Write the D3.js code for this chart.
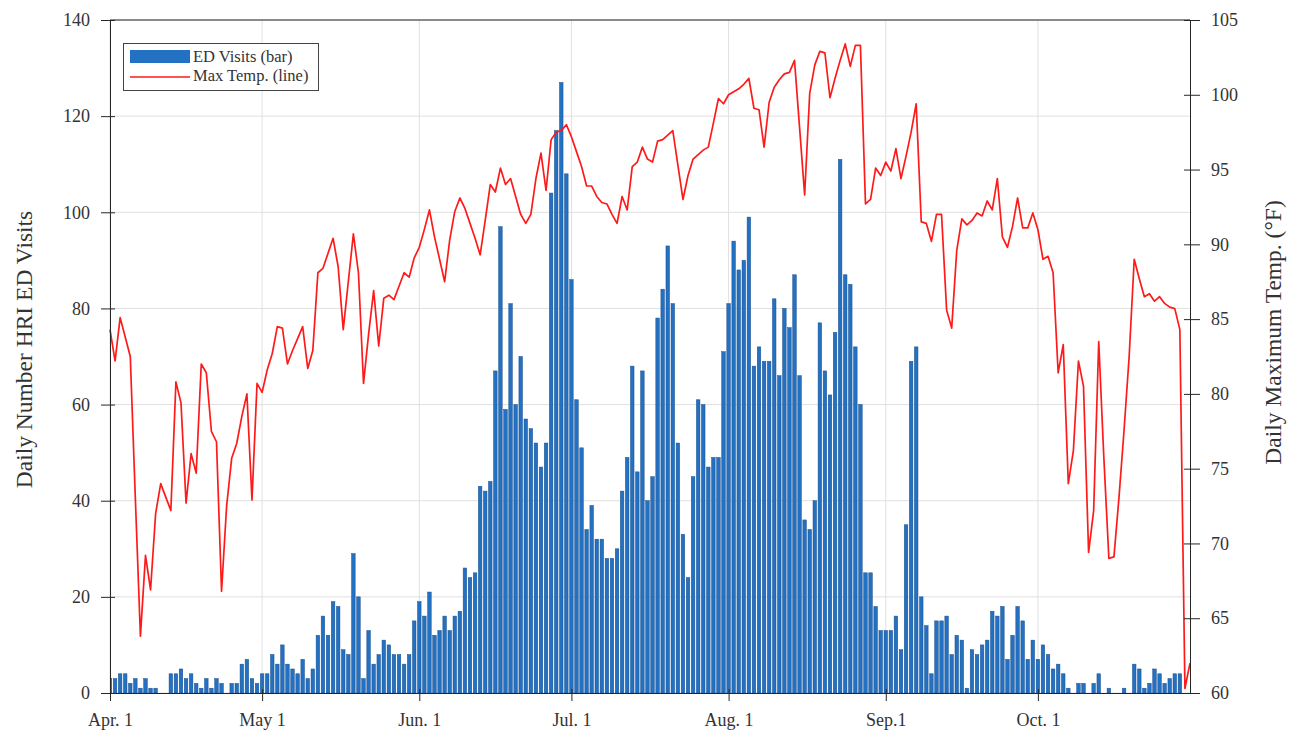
<!DOCTYPE html>
<html><head><meta charset="utf-8">
<script src="https://cdn.jsdelivr.net/npm/d3@7"></script>
<style>body{margin:0;background:#fff;} svg{display:block;font-family:"Liberation Serif","Times New Roman",serif;}</style>
</head><body><svg id="c" width="1294" height="733"></svg>
<script>
// ---- data ----
const startDate = "2018-04-01";
const endDate = "2018-10-31";
const edVisits = [
 3,3,4,4,2,3,1,3,1,1,
 0,0,4,4,5,3,4,2,1,3,
 1,3,2,0,2,2,6,7,3,2,
 4,4,8,6,10,6,5,4,7,3,
 5,12,16,12,19,18,9,8,29,20,
 3,13,6,8,11,10,8,8,6,8,
 15,19,16,21,12,13,16,13,16,17,
 26,24,25,43,42,44,67,97,59,81,
 60,70,57,55,52,47,52,104,117,127,
 108,86,61,51,34,39,32,32,28,28,
 30,42,49,68,46,67,40,45,78,84,
 93,81,52,33,24,45,61,60,47,49,
 49,71,81,94,88,90,99,68,72,69,
 69,82,66,80,76,87,66,36,34,40,
 77,67,62,75,111,87,85,72,60,25,
 25,18,13,13,13,16,9,35,69,72,
 20,14,4,15,15,16,8,12,11,1,
 9,8,10,11,17,16,18,7,12,18,
 15,7,11,7,10,8,5,6,4,1,
 0,2,2,0,2,4,0,1,0,0,
 1,0,6,5,1,2,5,4,2,3,
 4,4,0,0
];
const maxTemp = [
 84.3,82.2,85.1,83.8,82.5,73.0,63.8,69.2,66.9,72.0,
 74.0,73.1,72.2,80.8,79.4,72.7,76.0,74.7,82.0,81.4,
 77.5,76.8,66.8,72.5,75.7,76.7,78.5,80.0,72.9,80.7,
 80.1,81.6,82.7,84.5,84.4,82.0,82.9,83.7,84.5,81.7,
 82.9,88.1,88.4,89.4,90.4,88.5,84.3,87.5,90.7,88.1,
 80.7,84.0,86.9,83.2,86.4,86.6,86.3,87.2,88.1,87.8,
 89.1,89.8,91.0,92.3,90.5,89.0,87.5,90.3,92.2,93.1,
 92.4,91.4,90.4,89.3,91.6,94.0,93.5,95.1,94.0,94.4,
 93.2,92.0,91.4,92.0,94.4,96.1,93.6,97.0,97.5,97.6,
 98.0,97.2,96.2,95.2,93.9,93.9,93.2,92.8,92.7,92.0,
 91.4,93.2,92.3,95.2,95.5,96.5,95.7,95.5,96.9,97.0,
 97.3,97.6,95.3,93.0,94.6,95.7,96.0,96.3,96.5,98.1,
 99.75,99.4,100.0,100.2,100.4,100.7,101.1,99.1,99.0,96.5,
 99.5,100.5,101.0,101.4,101.5,102.3,97.8,93.3,100.1,102.0,
 102.9,102.8,99.8,101.1,102.3,103.4,101.9,103.3,103.3,92.7,
 93.0,95.1,94.6,95.5,94.9,96.4,94.4,95.9,97.5,99.4,
 91.5,91.4,90.2,92.0,92.0,85.6,84.4,89.6,91.7,91.3,
 91.6,92.1,91.9,92.9,92.3,94.4,90.5,89.8,91.2,93.1,
 91.1,91.1,92.1,91.0,89.0,89.2,88.1,81.4,83.3,74.0,
 76.2,82.2,80.5,69.4,72.2,83.5,75.8,69.0,69.1,73.1,
 77.6,82.5,89.0,87.7,86.5,86.7,86.2,86.5,86.05,85.8,
 85.7,84.3,60.3,62.0
];
const visitTicks = [0,20,40,60,80,100,120,140];
const tempTicks = [60,65,70,75,80,85,90,95,100,105];
const monthTicks = ["2018-04-01","2018-05-01","2018-06-01","2018-07-01","2018-08-01","2018-09-01","2018-10-01"];
const monthLabels = ["Apr. 1","May 1","Jun. 1","Jul. 1","Aug. 1","Sep.1","Oct. 1"];
const seriesNames = ["ED Visits (bar)","Max Temp. (line)"];
const axisTitles = ["Daily Number HRI ED Visits","Daily Maximum Temp. (\u00B0F)"];

// ---- layout ----
const m = {left:110, right:1190, top:20, bottom:693};
const parse = d3.utcParse("%Y-%m-%d");
const t0 = parse(startDate), t1 = parse(endDate);
const dates = edVisits.map((_, i) => d3.utcDay.offset(t0, i));
const x = d3.scaleUtc().domain([t0, t1]).range([m.left, m.right]);
const yL = d3.scaleLinear().domain([0, 140]).range([m.bottom, m.top]);
const yR = d3.scaleLinear().domain([60, 105]).range([m.bottom, m.top]);
const dayW = x(d3.utcDay.offset(t0, 1)) - x(t0);
const barW = dayW * 0.7;

const svg = d3.select("#c");
const axisColor = "#262626", gridColor = "#e0e0e0";
const barFill = "#2371c2", barStroke = "#1b4f8c", lineColor = "#ff1a1a";

svg.append("defs").append("clipPath").attr("id","plot")
  .append("rect").attr("x", m.left).attr("y", m.top).attr("width", m.right - m.left).attr("height", m.bottom - m.top);

// grid
const grid = svg.append("g");
grid.selectAll("line.h").data(visitTicks).join("line")
  .attr("x1", m.left).attr("x2", m.right).attr("y1", d => yL(d)).attr("y2", d => yL(d))
  .attr("stroke", gridColor).attr("stroke-width", 1);
grid.selectAll("line.v").data(monthTicks.map(parse)).join("line")
  .attr("x1", d => x(d)).attr("x2", d => x(d)).attr("y1", m.top).attr("y2", m.bottom)
  .attr("stroke", gridColor).attr("stroke-width", 1);

// bars
svg.append("g").attr("clip-path","url(#plot)")
  .selectAll("rect").data(edVisits).join("rect")
  .attr("x", (d, i) => x(dates[i]) - barW / 2)
  .attr("width", barW)
  .attr("y", d => yL(d))
  .attr("height", d => yL(0) - yL(d))
  .attr("fill", barFill).attr("stroke", barStroke).attr("stroke-width", 0.5);

// line
const line = d3.line().x((d, i) => x(dates[i])).y(d => yR(d));
svg.append("path").datum(maxTemp)
  .attr("d", line).attr("fill", "none").attr("stroke", lineColor)
  .attr("stroke-width", 1.7).attr("stroke-linejoin", "round");

// axes
const fs = 18;
const axL = d3.axisLeft(yL).tickValues(visitTicks).tickSizeInner(9).tickSizeOuter(0).tickPadding(11);
const gL = svg.append("g").attr("transform", `translate(${m.left},0)`).call(axL);
const axR = d3.axisRight(yR).tickValues(tempTicks).tickSizeInner(10).tickSizeOuter(0).tickPadding(11);
const gR = svg.append("g").attr("transform", `translate(${m.right},0)`).call(axR);
const axB = d3.axisBottom(x).tickValues(monthTicks.map(parse))
  .tickFormat((d, i) => monthLabels[i]).tickSizeInner(8).tickSizeOuter(0).tickPadding(12);
const gB = svg.append("g").attr("transform", `translate(0,${m.bottom})`).call(axB);
[gL, gR, gB].forEach(g => {
  g.select(".domain").attr("stroke", axisColor);
  g.selectAll(".tick line").attr("stroke", axisColor);
  g.selectAll(".tick text").attr("fill", "#333").style("font-size", fs + "px")
    .style("font-family", '"Liberation Serif","Times New Roman",serif');
});
// inward part of ticks
gL.selectAll(".tick line").attr("x1", 5);
gR.selectAll(".tick line").attr("x1", -6);
gB.selectAll(".tick line").attr("y1", -4);
// top border
svg.append("line").attr("x1", m.left).attr("x2", m.right).attr("y1", m.top).attr("y2", m.top)
  .attr("stroke", axisColor);

// axis titles
svg.append("text").attr("transform", `translate(32,${(m.top + m.bottom) / 2 - 7}) rotate(-90)`)
  .attr("text-anchor", "middle").attr("fill", "#333").style("font-size", "23.5px").text(axisTitles[0]);
svg.append("text").attr("transform", `translate(1281,${(m.top + m.bottom) / 2 - 24}) rotate(-90)`)
  .attr("text-anchor", "middle").attr("fill", "#333").style("font-size", "23.5px").text(axisTitles[1]);

// legend
const lg = svg.append("g");
lg.append("rect").attr("x", 123.5).attr("y", 43.5).attr("width", 195).attr("height", 47)
  .attr("fill", "#fff").attr("stroke", "#444").attr("stroke-width", 1);
lg.append("rect").attr("x", 130).attr("y", 50).attr("width", 60).attr("height", 13).attr("fill", barFill);
lg.append("line").attr("x1", 130).attr("x2", 190).attr("y1", 77).attr("y2", 77)
  .attr("stroke", lineColor).attr("stroke-width", 1.6);
lg.selectAll("text.l").data(seriesNames).join("text")
  .attr("x", 193).attr("y", (d, i) => 62 + i * 19)
  .attr("fill", "#333").style("font-size", "16.5px").text(d => d);
</script></body></html>
